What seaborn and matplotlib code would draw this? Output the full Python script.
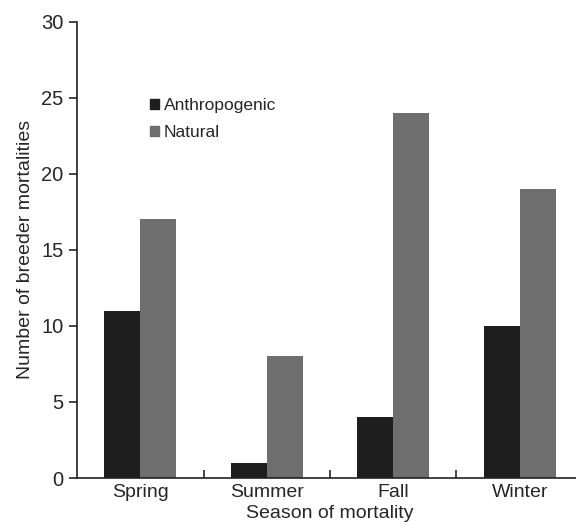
import pandas as pd
import seaborn as sns
import matplotlib.pyplot as plt
from matplotlib.patches import Patch

seasons = ["Spring", "Summer", "Fall", "Winter"]
anthropogenic = [11, 1, 4, 10]
natural = [17, 8, 24, 19]
causes = ["Anthropogenic", "Natural"]
colors = ["#1e1e1e", "#6e6e6e"]

df = pd.DataFrame({
    "season": seasons * 2,
    "count": anthropogenic + natural,
    "cause": [causes[0]] * 4 + [causes[1]] * 4,
})

sns.set_style("ticks")
plt.rcParams["font.family"] = ["Liberation Sans", "DejaVu Sans"]

fig = plt.figure(figsize=(5.76, 5.25), dpi=100)
ax = fig.add_axes([0.134, 0.0895, 0.878, 0.869])

sns.barplot(data=df, x="season", y="count", hue="cause", palette=colors,
            width=0.57, gap=0, saturation=1, edgecolor="none", ax=ax, legend=False)

ax.set_xlim(-0.5, 3.5)
ax.set_ylim(0, 30)
ax.set_yticks(range(0, 31, 5))
ax.set_xlabel("Season of mortality", fontsize=14, labelpad=3)
ax.set_ylabel("Number of breeder mortalities", fontsize=14, labelpad=5)
ax.tick_params(axis="y", labelsize=14.5, direction="out", length=6, width=1.2, pad=4)
ax.tick_params(axis="x", which="major", labelsize=14, length=0, pad=4)
ax.set_xticks([0.5, 1.5, 2.5], minor=True)
ax.tick_params(axis="x", which="minor", direction="in", length=6, width=1.2)
for s in ["top", "right"]:
    ax.spines[s].set_visible(False)
for s in ["left", "bottom"]:
    ax.spines[s].set_linewidth(1.2)
    ax.spines[s].set_color("#222222")

handles = [Patch(color=c, label=l) for c, l in zip(colors, causes)]
ax.legend(handles=handles, loc="upper left", bbox_to_anchor=(0.12, 0.86),
          frameon=False, fontsize=12.5, handlelength=0.5, handleheight=0.5,
          handletextpad=0.3, labelspacing=0.7, borderpad=0.2)

fig.savefig("out.png", dpi=100)
